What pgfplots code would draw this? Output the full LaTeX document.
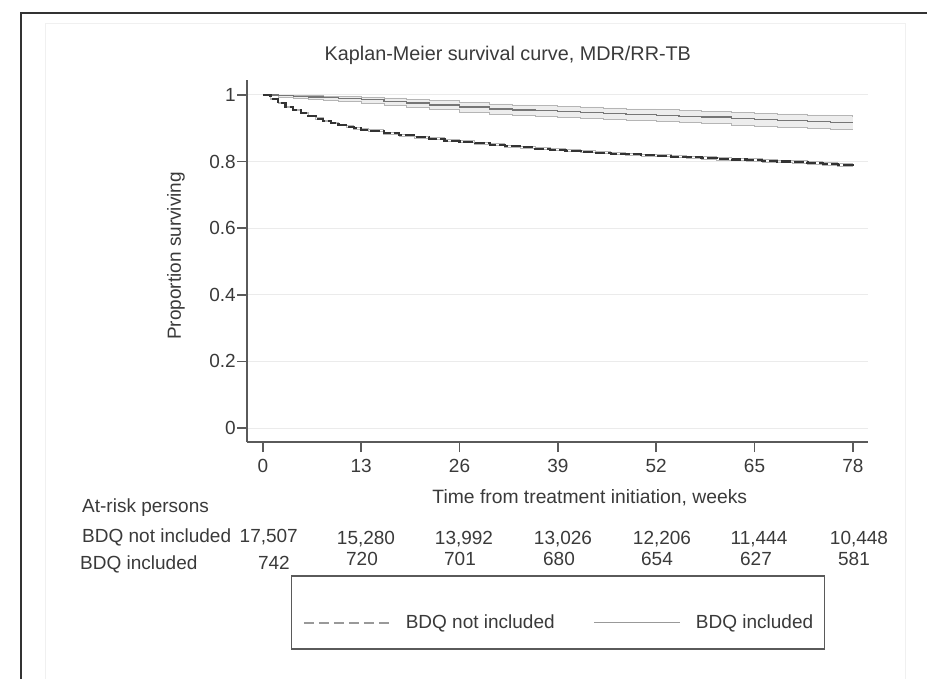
\documentclass[border=0pt]{standalone}
\usepackage{fontspec}
\setmainfont{Liberation Sans}
\usepackage{pgfplots}
\pgfplotsset{compat=1.18}
\usepackage{pgfplotstable}
\usepgfplotslibrary{fillbetween}

\definecolor{textgray}{HTML}{3A3A3A}
\definecolor{axisgray}{HTML}{5A5A5A}
\definecolor{gridgray}{HTML}{EBEBEB}
\definecolor{incl}{HTML}{767676}
\definecolor{cigray}{HTML}{B5B5B5}
\definecolor{cifill}{HTML}{EDEDED}
\definecolor{darkline}{HTML}{333333}
\definecolor{leggray}{HTML}{999999}
\definecolor{framecol}{HTML}{333333}
\definecolor{innerframe}{HTML}{F0F0F0}

% BDQ not included: time (weeks), survival, lower CI, upper CI
\pgfplotstableread{
t s lo hi
0 1.000 1.000 1.000
1 0.987 0.985 0.989
2 0.975 0.973 0.977
3 0.964 0.962 0.966
4 0.954 0.952 0.956
5 0.945 0.943 0.947
6 0.937 0.935 0.939
7 0.929 0.927 0.931
8 0.922 0.920 0.924
9 0.916 0.914 0.918
10 0.910 0.908 0.912
11 0.905 0.903 0.907
12 0.900 0.897 0.903
13 0.896 0.893 0.899
14 0.892 0.889 0.895
16 0.885 0.882 0.888
18 0.879 0.876 0.882
20 0.873 0.870 0.876
22 0.868 0.865 0.871
24 0.863 0.860 0.866
26 0.859 0.856 0.862
28 0.855 0.852 0.858
30 0.850 0.847 0.853
32 0.846 0.843 0.849
34 0.843 0.840 0.846
36 0.839 0.836 0.842
38 0.836 0.833 0.839
40 0.833 0.830 0.836
42 0.830 0.827 0.833
44 0.827 0.824 0.830
46 0.824 0.821 0.827
48 0.822 0.819 0.825
50 0.819 0.816 0.822
52 0.817 0.814 0.820
54 0.815 0.812 0.818
56 0.813 0.810 0.816
58 0.811 0.807 0.815
60 0.808 0.804 0.812
62 0.806 0.802 0.810
64 0.804 0.800 0.808
66 0.802 0.798 0.806
68 0.800 0.796 0.804
70 0.798 0.794 0.802
72 0.796 0.792 0.800
74 0.793 0.789 0.797
76 0.790 0.786 0.794
78 0.787 0.783 0.791
}\tabnot

% BDQ included
\pgfplotstableread{
t s lo hi
0 1.000 1.000 1.000
2 0.998 0.993 1.000
4 0.996 0.989 0.999
6 0.994 0.986 0.998
8 0.992 0.983 0.997
10 0.990 0.980 0.996
13 0.986 0.975 0.994
16 0.981 0.969 0.991
19 0.976 0.963 0.987
22 0.970 0.956 0.983
26 0.964 0.949 0.978
30 0.958 0.942 0.973
33 0.955 0.938 0.970
36 0.953 0.936 0.968
39 0.951 0.933 0.966
42 0.948 0.930 0.964
45 0.945 0.926 0.961
48 0.942 0.923 0.958
52 0.939 0.920 0.956
55 0.936 0.917 0.953
58 0.934 0.915 0.951
62 0.930 0.910 0.948
65 0.927 0.907 0.945
68 0.924 0.903 0.943
72 0.921 0.900 0.940
75 0.918 0.897 0.938
78 0.916 0.895 0.937
}\tabincl

\begin{document}
\fontsize{19}{23}\selectfont
\color{textgray}
\begin{tikzpicture}
% frames
\draw[innerframe, line width=1pt] (45pt,-690pt) -- (45pt,-23pt) -- (905pt,-23pt) -- (905pt,-690pt);
\draw[framecol, line width=1.8pt] (21pt,-690pt) -- (21pt,-13pt) -- (940pt,-13pt);

\begin{axis}[
  scale only axis, width=621pt, height=362pt,
  at={(247pt,-442pt)}, anchor=south west,
  xmin=-2.1, xmax=80, ymin=-0.042, ymax=1.045,
  axis x line*=bottom, axis y line*=left,
  axis line style={draw=axisgray, line width=1.5pt, -},
  xtick={0,13,26,39,52,65,78},
  ytick={0,0.2,0.4,0.6,0.8,1},
  yticklabels={0,0.2,0.4,0.6,0.8,1},
  tick align=outside, major tick length=10pt,
  tick style={draw=axisgray, line width=1.5pt},
  ymajorgrids, grid style={draw=gridgray, line width=1pt},
  /pgf/number format/assume math mode=true,
  yticklabel style={inner sep=1pt, text=textgray},
  xticklabel style={inner sep=1pt, yshift=-6pt, text=textgray},
  title={Kaplan-Meier survival curve, MDR/RR-TB},
  title style={at={(axis description cs:0.42,1.036)}, anchor=base, inner sep=0pt, font=\fontsize{19.8}{23}\selectfont},
  xlabel={Time from treatment initiation, weeks},
  xlabel style={at={(axis description cs:0.552,-0.171)}, anchor=base, inner sep=0pt, font=\fontsize{19.3}{23}\selectfont},
  ylabel={Proportion surviving},
  ylabel style={at={(axis description cs:-0.1063,0.514)}, anchor=base, inner sep=0pt},
  legend columns=2,
  legend cell align=left,
  legend style={at={(axis description cs:0.5008,-0.471)}, anchor=center,
    draw=axisgray, line width=1.2pt, inner xsep=11pt, inner ysep=18pt,
    column sep=15pt, nodes={inner sep=0pt, text=textgray}, fill=white},
]
% BDQ included: CI band and estimate
\addplot[name path=bhi, const plot, draw=cigray, line width=0.8pt, forget plot] table[x=t,y=hi]{\tabincl};
\addplot[name path=blo, const plot, draw=cigray, line width=0.8pt, forget plot] table[x=t,y=lo]{\tabincl};
\addplot[cifill, forget plot] fill between[of=bhi and blo];
\addplot[const plot, draw=incl, line width=1.2pt, forget plot] table[x=t,y=s]{\tabincl};
% BDQ not included
\addplot[const plot, draw=cigray, line width=1pt, forget plot] table[x=t,y=hi]{\tabnot};
\addplot[const plot, draw=cigray, line width=1pt, forget plot] table[x=t,y=lo]{\tabnot};
\addplot[const plot, draw=darkline, line width=2.2pt, dash pattern=on 10pt off 3pt, forget plot] table[x=t,y=s]{\tabnot};

\addlegendimage{legend image code/.code={\path (0pt,28pt); \draw[draw=leggray, line width=2pt, dash pattern=on 10pt off 5pt] (0pt,0pt) -- (86pt,0pt);}}
\addlegendentry{BDQ not included}
\addlegendimage{legend image code/.code={\path (0pt,0pt); \draw[draw=leggray, line width=1.3pt] (24pt,0pt) -- (110pt,0pt);}}
\addlegendentry{BDQ included}
\end{axis}

% at-risk table
\node[anchor=base west, inner sep=0pt] at (82pt,-512pt) {At-risk persons};
\node[anchor=base west, inner sep=0pt] at (82pt,-542pt) {BDQ not included};
\node[anchor=base west, inner sep=0pt] at (80pt,-569pt) {BDQ included};
\node[anchor=base east, inner sep=0pt] at (298pt,-542pt) {17,507};
\node[anchor=base east, inner sep=0pt] at (290pt,-569pt) {742};
\node[anchor=base, inner sep=0pt] at (366pt,-544pt) {15,280};
\node[anchor=base, inner sep=0pt] at (464pt,-544pt) {13,992};
\node[anchor=base, inner sep=0pt] at (563pt,-544pt) {13,026};
\node[anchor=base, inner sep=0pt] at (662pt,-544pt) {12,206};
\node[anchor=base, inner sep=0pt] at (759pt,-544pt) {11,444};
\node[anchor=base, inner sep=0pt] at (859pt,-544pt) {10,448};
\node[anchor=base, inner sep=0pt] at (362pt,-565pt) {720};
\node[anchor=base, inner sep=0pt] at (460pt,-565pt) {701};
\node[anchor=base, inner sep=0pt] at (559pt,-565pt) {680};
\node[anchor=base, inner sep=0pt] at (657pt,-565pt) {654};
\node[anchor=base, inner sep=0pt] at (756pt,-565pt) {627};
\node[anchor=base, inner sep=0pt] at (854pt,-565pt) {581};

\pgfresetboundingbox
\useasboundingbox (0pt,0pt) rectangle (927pt,-678pt);
\end{tikzpicture}
\end{document}
